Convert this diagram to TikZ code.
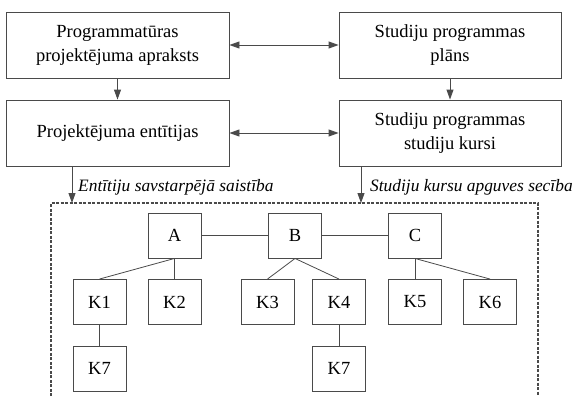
\documentclass[tikz,border=0pt]{standalone}
\usepackage{fontspec}
\setmainfont{Liberation Serif}
\usetikzlibrary{arrows.meta}
\definecolor{linec}{HTML}{4A4A4A}
\tikzset{
  bigbox/.style={draw=linec, line width=0.9pt, minimum width=223pt, minimum height=66pt,
    inner sep=0pt, align=center, font=\fontsize{18.5}{24}\selectfont},
  small/.style={draw=linec, line width=0.9pt, minimum width=53pt, minimum height=45pt,
    inner sep=0pt, font=\fontsize{18.5}{22}\selectfont},
  arr/.style={draw=linec, line width=0.9pt, -{Triangle[length=10pt,width=7pt]}},
  dbl/.style={draw=linec, line width=0.9pt, {Triangle[length=10pt,width=7pt]}-{Triangle[length=10pt,width=7pt]}},
  link/.style={draw=linec, line width=0.8pt},
  frame/.style={draw=linec, line width=1.2pt, dash pattern=on 3pt off 1.5pt},
  lbl/.style={font=\fontsize{17.4}{20}\selectfont\itshape, inner sep=0pt, anchor=base west}
}
\begin{document}
\begin{tikzpicture}[x=1pt,y=-1pt]
\useasboundingbox (0,0) rectangle (572,396);

% upper process boxes
\node[bigbox] (apr) at (117.5,45) {Programmatūras\\projektējuma apraksts};
\node[bigbox] (ent) at (117.5,133) {Projektējuma entītijas};
\node[bigbox, minimum width=222pt] (plan) at (450,45) {Studiju programmas\\plāns};
\node[bigbox, minimum width=222pt] (kur) at (450,133) {Studiju programmas\\studiju kursi};

\draw[arr] (apr) -- (ent);
\draw[arr] (plan) -- (kur);
\draw[dbl] (apr) -- (plan);
\draw[dbl] (ent) -- (kur);

% dashed frame around the course graph
\coordinate (fl) at (72,203);
\coordinate (fr) at (361,203);
\draw[frame] (51,396) -- (51,203) -- (538,203) -- (538,396);

\draw[arr] (ent.south -| fl) -- (fl);
\draw[arr] (kur.south -| fr) -- (fr);
\node[lbl] (l1) at (78,191) {Entītiju savstarpējā saistība};
\node[lbl] (l2) at (370,191) {Studiju kursu apguves secība};

% course graph
\node[small] (A) at (174.5,235.5) {A};
\node[small] (B) at (295,235.5) {B};
\node[small] (C) at (415,235.5) {C};
\node[small] (K1) at (99.5,302) {K1};
\node[small] (K2) at (174.5,302) {K2};
\node[small] (K3) at (267.5,302) {K3};
\node[small] (K4) at (339,302) {K4};
\node[small] (K5) at (415,302) {K5};
\node[small] (K6) at (490,302) {K6};
\node[small] (K7a) at (99.5,368.5) {K7};
\node[small] (K7b) at (339,368.5) {K7};

\draw[link] (A) -- (B);
\draw[link] (B) -- (C);
\draw[link] (A.south) -- (K1.north);
\draw[link] (A.south) -- (K2.north);
\draw[link] (B.south) -- (K3.north);
\draw[link] (B.south) -- (K4.north);
\draw[link] (C.south) -- (K5.north);
\draw[link] (C.south) -- (K6.north);
\draw[link] (K1) -- (K7a);
\draw[link] (K4) -- (K7b);
\end{tikzpicture}
\end{document}
